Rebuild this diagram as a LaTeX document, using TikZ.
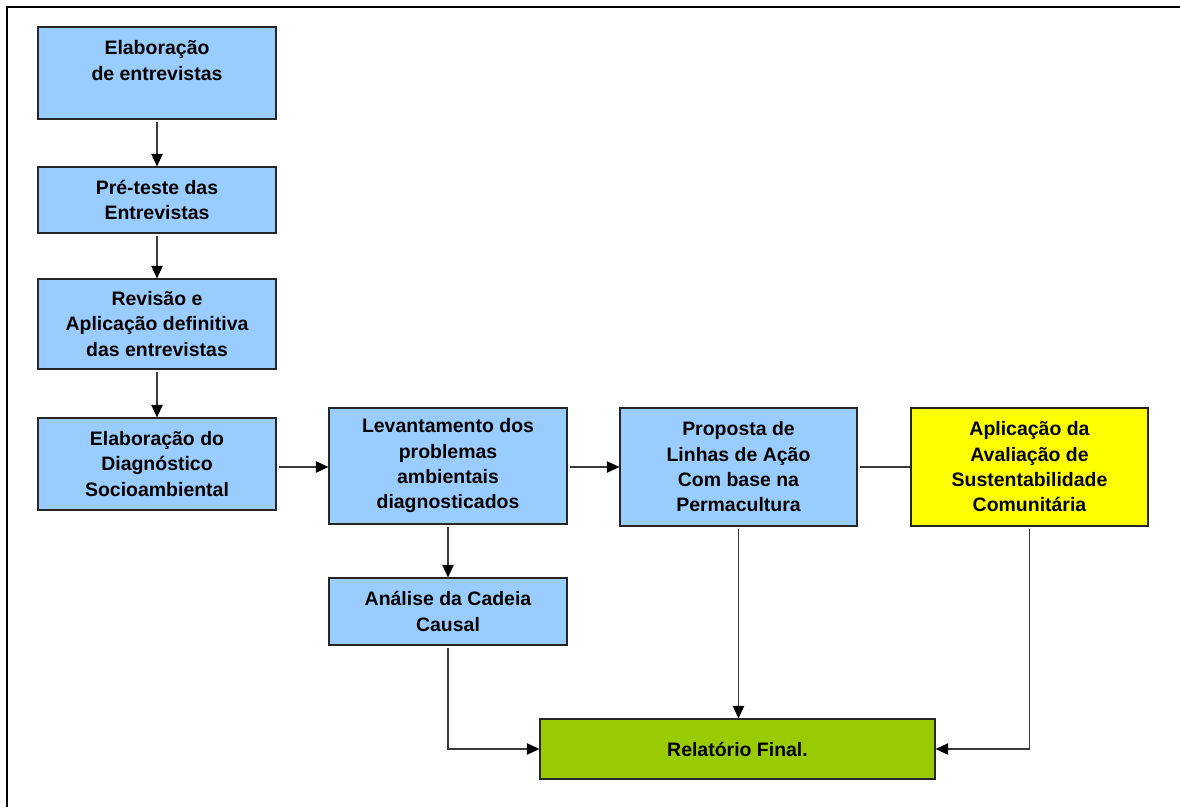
\documentclass[tikz,border=0pt]{standalone}
\usepackage{fontspec}
\setmainfont{Liberation Sans}
\usetikzlibrary{arrows.meta}
\definecolor{boxblue}{HTML}{99CCFF}
\definecolor{boxyellow}{HTML}{FFFF00}
\definecolor{boxgreen}{HTML}{99CC00}
\definecolor{linegray}{HTML}{3A3A3A}
\begin{document}
\begin{tikzpicture}[x=0.75pt,y=-0.75pt,
  stepbox/.style={draw=black!85, line width=0.8pt, fill=boxblue, align=center,
    inner sep=0pt, font=\fontsize{14.6pt}{19pt}\selectfont\bfseries,
    minimum width=178.5pt},
  conn/.style={draw=linegray, line width=1.1pt, shorten <=2pt},
  arr/.style={conn, -{Triangle[length=9.5pt,width=8.5pt,color=black]}, shorten >=0pt}]
  \useasboundingbox (0,0) rectangle (1180,807);
  % frame
  \draw[line width=1.3pt] (7,807) -- (7,7) -- (1180,7);

  \node[stepbox, minimum height=69pt] (b1) at (157,73) {Elaboração\\de entrevistas\\\mbox{}};
  \node[stepbox, minimum height=49.5pt] (b2) at (157,200) {Pré-teste das\\Entrevistas};
  \node[stepbox, minimum height=67.5pt] (b3) at (157,324) {Revisão e\\Aplicação definitiva\\das entrevistas};
  \node[stepbox, minimum height=69pt] (b4) at (157,464) {Elaboração do\\Diagnóstico\\Socioambiental};
  \node[stepbox, minimum height=87pt] (b5) at (448,466) {Levantamento dos\\problemas\\ambientais\\diagnosticados};
  \node[stepbox, minimum height=88.5pt, minimum width=177.75pt] (b6) at (738.5,467) {Proposta de\\Linhas de Ação\\Com base na\\Permacultura};
  \node[stepbox, fill=boxyellow, minimum height=88.5pt, minimum width=177.75pt] (b7) at (1029.5,467) {Aplicação da\\Avaliação de\\Sustentabilidade\\Comunitária};
  \node[stepbox, minimum height=50.25pt] (b8) at (448,611.5) {Análise da Cadeia\\Causal};
  \node[stepbox, fill=boxgreen, minimum height=45pt, minimum width=296.25pt] (b9) at (737.5,749) {Relatório Final.};

  \draw[arr] (b1) -- (b2);
  \draw[arr] (b2) -- (b3);
  \draw[arr] (b3) -- (b4);
  \draw[arr] (b4.east |- b6.center) -- (b5.west |- b6.center);
  \draw[arr] (b5.east |- b6.center) -- (b6.west);
  \draw[conn] (b6) -- (b7);
  \draw[arr] (b5) -- (b8);
  \draw[arr] (b8.south) |- (b9.west);
  \draw[arr] (b6.south) -- (b6.south |- b9.north);
  \draw[arr] (b7.south) |- (b9.east);
\end{tikzpicture}
\end{document}
